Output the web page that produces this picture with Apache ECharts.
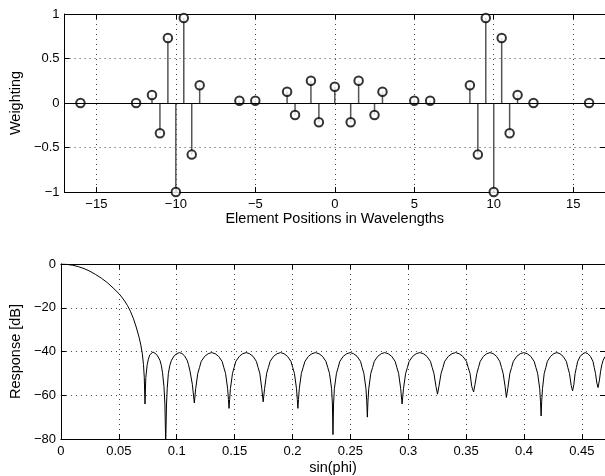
<!DOCTYPE html>
<html>
<head>
<meta charset="utf-8">
<script src="https://cdn.jsdelivr.net/npm/echarts@6/dist/echarts.min.js"></script>
<style>
html,body{margin:0;padding:0;background:#fff;}
#chart{width:605px;height:476px;}
</style>
</head>
<body>
<div id="chart"></div>
<script>
// Element positions (wavelengths) and weights for the stem plot
const positions = [-16,-12.5,-11.5,-11,-10.5,-10,-9.5,-9,-8.5,-6,-5,-3,-2.5,-1.5,-1,0,1,1.5,2.5,3,5,6,8.5,9,9.5,10,10.5,11,11.5,12.5,16];
const weights = [0,0,0.09,-0.34,0.73,-1,0.955,-0.58,0.2,0.026,0.026,0.127,-0.135,0.25,-0.217,0.183,-0.217,0.25,-0.135,0.127,0.026,0.026,0.2,-0.58,0.955,-1,0.73,-0.34,0.09,0,0];

// Response curve, one row per lobe
const sinPhi = [
0,0.005,0.01,0.015,0.02,0.025,0.03,0.035,0.04,0.045,0.05,0.0525,0.055,0.0575,0.06,0.0625,0.065,0.0675,0.069,0.0703,0.0713,0.072,0.0726,
0.0733,0.0745,0.0755,0.0768,0.078,0.0795,0.081,0.0825,0.084,0.0855,0.0867,0.0877,0.089,0.0898,0.0905,
0.0912,0.0918,0.0928,0.094,0.0955,0.0978,0.1,0.1023,0.1045,0.1068,0.109,0.1102,0.1115,0.1135,0.1152,
0.1164,0.1182,0.1197,0.1212,0.1242,0.1272,0.1302,0.1332,0.1362,0.1392,0.1407,0.1422,0.144,0.1447,0.1452,
0.1457,0.1464,0.1482,0.1496,0.1511,0.1541,0.157,0.16,0.1629,0.1659,0.1688,0.1703,0.1718,0.1735,0.1747,
0.1759,0.1777,0.1792,0.1807,0.1837,0.1867,0.1897,0.1927,0.1957,0.1987,0.2002,0.2017,0.2035,0.2042,0.2047,
0.2052,0.2059,0.2077,0.2092,0.2108,0.2138,0.2168,0.2198,0.2229,0.2259,0.2289,0.2305,0.232,0.2338,0.2345,0.235,
0.2355,0.2362,0.238,0.2395,0.2409,0.2439,0.2469,0.2499,0.2528,0.2558,0.2588,0.2602,0.2617,0.2635,0.2642,0.2647,
0.2652,0.2659,0.2677,0.2692,0.2707,0.2737,0.2767,0.2797,0.2827,0.2857,0.2887,0.2902,0.2917,0.2935,0.2947,
0.2959,0.2978,0.2993,0.3008,0.3039,0.3069,0.31,0.3131,0.3161,0.3192,0.3207,0.3222,0.324,0.3253,
0.3265,0.3284,0.33,0.3315,0.3347,0.3378,0.3409,0.344,0.3471,0.3503,0.3518,0.3534,0.3549,0.3558,0.3565,
0.3577,0.3593,0.3607,0.3622,0.365,0.3678,0.3706,0.3735,0.3763,0.3791,0.3806,0.382,0.3837,0.3848,
0.386,0.3878,0.3893,0.3908,0.3938,0.3968,0.3998,0.4028,0.4058,0.4088,0.4103,0.4118,0.4136,0.4143,0.4148,
0.4153,0.416,0.4175,0.4189,0.4202,0.423,0.4257,0.4284,0.4311,0.4338,0.4366,0.4379,0.4393,0.4408,0.442,
0.4431,0.4442,0.4453,0.4464,0.4486,0.4508,0.453,0.4552,0.4574,0.4596,0.4607,0.4618,0.463,0.464,
0.4652,0.4662,0.4673,0.4684,0.47
];
const responseDb = [
0,-0.15,-0.55,-1.2,-2.1,-3.3,-4.8,-6.5,-8.5,-10.9,-13.5,-15.1,-16.9,-19.0,-21.6,-24.8,-28.8,-33.5,-37,-41,-46,-52,-64,
-52,-46,-43.5,-41.5,-40.6,-40.2,-40.5,-41.3,-42.5,-44,-46.3,-49.5,-56,-64,-82,
-64,-57,-50,-46.5,-44,-42,-41,-40.5,-40.9,-42,-44,-46,-49,-55,-63.5,
-57,-50,-47.3,-44.5,-42.2,-41,-40.5,-41,-42.2,-44.5,-47.3,-50,-57,-62,-66,
-62,-57,-50,-47.3,-44.5,-42.2,-41,-40.5,-41,-42.2,-44.5,-47.3,-50,-57,-63,
-57,-50,-47.3,-44.5,-42.2,-41,-40.5,-41,-42.2,-44.5,-47.3,-50,-57,-62,-66,
-62,-57,-50,-47.3,-44.5,-42.2,-41,-40.5,-41,-42.2,-44.5,-47.3,-50,-57,-64,-78,
-64,-57,-50,-47.3,-44.5,-42.2,-41,-40.5,-41,-42.2,-44.5,-47.3,-50,-57,-63,-70,
-63,-57,-50,-47.3,-44.5,-42.2,-41,-40.5,-41,-42.2,-44.5,-47.3,-50,-57,-64,
-57,-50,-47.3,-44.5,-42.2,-41,-40.5,-41,-42.2,-44.5,-47.3,-50,-56,-59.5,
-56,-50,-47.3,-44.5,-42.2,-41,-40.5,-41,-42.2,-44.5,-47.3,-50,-56,-57.5,-58.5,
-55,-50,-47.3,-44.5,-42.2,-41,-40.5,-41,-42.2,-44.5,-47.3,-50,-56,-61,
-57,-50,-47.3,-44.5,-42.2,-41,-40.5,-41,-42.2,-44.5,-47.3,-50,-57,-63,-69.5,
-63,-57,-50,-47.3,-44.5,-42.2,-41,-40.5,-41,-42.2,-44.5,-47.3,-50,-55.5,-58,
-55,-50,-47.3,-44.5,-42.2,-41,-40.5,-41,-42.2,-44.5,-47.3,-50,-54.5,-56.5,
-53,-49,-46,-44,-42.4
];

const FONT = 'Liberation Sans, Arial, Helvetica, sans-serif';
const minus = v => String(v).replace('-', '\u2212');
const gridLine = {show:true, lineStyle:{color:'#444', width:1, type:[1,4]}};
const axLine = {show:true, onZero:false, lineStyle:{color:'#000', width:1}};
const tickIn = {show:true, inside:true, length:5, lineStyle:{color:'#000'}};

function mainX(gridIndex, min, max, step, name, nameGap) {
  return {
    type:'value', gridIndex, position:'bottom', min, max,
    minInterval:step, maxInterval:step, splitNumber:9,
    name, nameLocation:'middle', nameGap,
    nameTextStyle:{fontFamily:FONT, fontSize:14.5, color:'#000'},
    axisLine:axLine, axisTick:tickIn, splitLine:gridLine,
    axisLabel:{fontFamily:FONT, fontSize:13, color:'#000', margin:6, showMinLabel:min%step===0, showMaxLabel:false, formatter:minus}
  };
}
function sideX(gridIndex, min, max, step) {
  return {
    type:'value', gridIndex, position:'top', min, max,
    minInterval:step, maxInterval:step, splitNumber:9,
    axisLine:axLine, axisTick:tickIn, splitLine:{show:false}, axisLabel:{show:false}
  };
}
function mainY(gridIndex, min, max, step, name, nameGap) {
  return {
    type:'value', gridIndex, position:'left', min, max, interval:step,
    name, nameLocation:'middle', nameGap, nameRotate:90,
    nameTextStyle:{fontFamily:FONT, fontSize:14.5, color:'#000'},
    axisLine:axLine, axisTick:tickIn, splitLine:gridLine,
    axisLabel:{fontFamily:FONT, fontSize:13, color:'#000', margin:5, formatter:minus}
  };
}
function sideY(gridIndex, min, max, step) {
  return {
    type:'value', gridIndex, position:'right', min, max, interval:step,
    axisLine:axLine, axisTick:tickIn, splitLine:{show:false}, axisLabel:{show:false}
  };
}

const chart = echarts.init(document.getElementById('chart'), null, {renderer:'canvas'});
chart.setOption({
  animation:false,
  backgroundColor:'#fff',
  grid:[
    {left:59, top:14, right:-2, height:178},
    {left:59, top:264, right:-2, height:178}
  ],
  xAxis:[
    mainX(0, -17, 17, 5, 'Element Positions in Wavelengths', 19),
    sideX(0, -17, 17, 5),
    mainX(1, 0, 0.47, 0.05, 'sin(phi)', 21),
    sideX(1, 0, 0.47, 0.05)
  ],
  yAxis:[
    mainY(0, -1, 1, 0.5, 'Weighting', 41),
    sideY(0, -1, 1, 0.5),
    mainY(1, -80, 0, 20, 'Response [dB]', 31),
    sideY(1, -80, 0, 20)
  ],
  series:[
    {
      type:'bar', xAxisIndex:0, yAxisIndex:0, barWidth:1.5,
      data: positions.map((p,i)=>[p, weights[i]]),
      itemStyle:{color:'#555'}, z:2, silent:true
    },
    {
      type:'scatter', xAxisIndex:0, yAxisIndex:0,
      symbol:'emptyCircle', symbolSize:8.5,
      itemStyle:{color:'#000', borderColor:'#000', borderWidth:1.1},
      data: positions.map((p,i)=>[p, weights[i]]), z:4, silent:true,
      markLine:{
        silent:true, symbol:['none','none'], label:{show:false},
        lineStyle:{color:'#000', width:1, type:'solid'},
        data:[{yAxis:0}]
      }
    },
    {
      type:'line', xAxisIndex:2, yAxisIndex:2,
      data: sinPhi.map((x,i)=>[x, responseDb[i]]),
      showSymbol:false, symbol:'none', clip:true,
      lineStyle:{color:'#000', width:1}, z:3, silent:true
    }
  ]
});
</script>
</body>
</html>
